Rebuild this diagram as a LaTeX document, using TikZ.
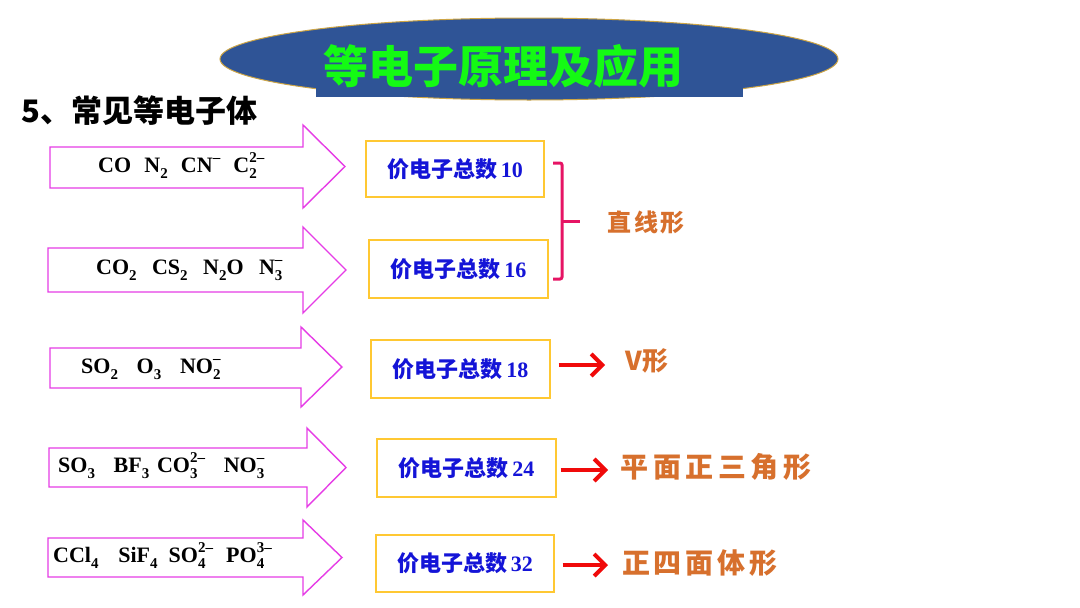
\documentclass[tikz,border=0pt]{standalone}
\usepackage{fontspec}
\setmainfont{Liberation Serif}
\newfontfamily\cjk{Noto Sans CJK SC}
\usetikzlibrary{arrows.meta}
\definecolor{ellblue}{RGB}{47,84,150}
\definecolor{ellgold}{RGB}{205,165,70}
\definecolor{titlegreen}{RGB}{20,250,20}
\definecolor{arrpink}{RGB}{230,60,230}
\definecolor{boxgold}{RGB}{255,200,50}
\definecolor{txtblue}{RGB}{20,20,215}
\definecolor{brk}{RGB}{230,20,100}
\definecolor{shapeorange}{RGB}{215,112,45}
\definecolor{redarr}{RGB}{240,10,10}
\newcommand\chsub[1]{\raisebox{-0.3em}{\fontsize{15}{15}\selectfont #1}}
\newcommand\chsup[1]{\raisebox{0.42em}{\fontsize{15}{15}\selectfont #1}}
\newcommand\chion[2]{\rlap{\chsub{#1}}\chsup{#2}}
\tikzset{
  barrow/.style={draw=arrpink, line width=1.4pt, fill=white, line join=miter},
  formula/.style={anchor=base west, inner sep=0pt, font=\bfseries\fontsize{22}{24}\selectfont},
  vbox/.style={draw=boxgold, line width=1.2pt, fill=white, inner sep=0pt,
     font=\fontsize{22}{24}\selectfont\bfseries, text=txtblue},
  shapelbl/.style={inner sep=0pt, text=shapeorange},
  redconn/.style={draw=redarr, line width=4pt,
     -{Straight Barb[length=11pt,width=22pt,line width=4pt]}},
}
\newcommand\vtext[1]{{\cjk 价电子总数}\,#1}
\begin{document}
\begin{tikzpicture}[x=1pt,y=-1pt]
\useasboundingbox (0,0) rectangle (1080,608);
\fill[white] (0,0) rectangle (1080,608);
% title banner
\draw[fill=ellblue, draw=ellgold, line width=1pt] (529,59) ellipse [x radius=309, y radius=41];
\fill[ellblue] (316,34) rectangle (743,97);
\node[font=\cjk\bfseries\fontsize{45}{48}\selectfont, text=titlegreen, inner sep=0pt] (title) at (503,66) {等电子原理及应用};
% heading
\node[anchor=west, font=\cjk\bfseries\fontsize{31}{34}\selectfont, inner sep=0pt] (head) at (21,111) {5、常见等电子体};
% block arrows
\draw[barrow] (50,147) -- (303,147) -- (303,125) -- (345,166.5) -- (303,208) -- (303,188) -- (50,188) -- cycle;
\draw[barrow] (48,248) -- (303,248) -- (303,227) -- (346,270) -- (303,313) -- (303,292) -- (48,292) -- cycle;
\draw[barrow] (50,348) -- (301,348) -- (301,327) -- (342,367) -- (301,407) -- (301,388) -- (50,388) -- cycle;
\draw[barrow] (49,448) -- (307,448) -- (307,428) -- (346,467.5) -- (307,507) -- (307,487) -- (49,487) -- cycle;
\draw[barrow] (48,538) -- (303,538) -- (303,520) -- (342,557.5) -- (303,595) -- (303,577) -- (48,577) -- cycle;
% formulas
\node[formula] (f1) at (98,172) {CO\hspace{0.6em}N\chsub{2}\hspace{0.6em}CN\chsup{–}\hspace{0.6em}C\chion{2}{2–}};
\node[formula] (f2) at (96,274) {CO\chsub{2}\hspace{0.7em}CS\chsub{2}\hspace{0.7em}N\chsub{2}O\hspace{0.7em}N\chion{3}{–}};
\node[formula] (f3) at (81,373) {SO\chsub{2}\hspace{0.85em}O\chsub{3}\hspace{0.85em}NO\chion{2}{–}};
\node[formula] (f4) at (58,472) {SO\chsub{3}\hspace{0.85em}BF\chsub{3}\hspace{0.35em}CO\chion{3}{2–}\hspace{0.85em}NO\chion{3}{–}};
\node[formula] (f5) at (53,562) {CCl\chsub{4}\hspace{0.9em}SiF\chsub{4}\hspace{0.5em}SO\chion{4}{2–}\hspace{0.6em}PO\chion{4}{3–}};
% value boxes
\node[vbox, minimum width=178, minimum height=56] (b1) at (455,169) {\vtext{10}};
\node[vbox, minimum width=179, minimum height=58] (b2) at (458.5,269) {\vtext{16}};
\node[vbox, minimum width=179, minimum height=58] (b3) at (460.5,369) {\vtext{18}};
\node[vbox, minimum width=179, minimum height=58] (b4) at (466.5,468) {\vtext{24}};
\node[vbox, minimum width=178, minimum height=57] (b5) at (465,563.5) {\vtext{32}};
% bracket
\draw[brk, line width=3pt, rounded corners=2pt] (553,163) -- (562,163) -- (562,279) -- (553,279);
\draw[brk, line width=3pt] (562,221) -- (580,221);
% shape labels
\node[shapelbl, font=\cjk\bfseries\fontsize{24}{28}\selectfont] (s1) at (646,222) {直\kern2.5pt 线\kern2.5pt 形};
\node[shapelbl, font=\cjk\bfseries\fontsize{26}{30}\selectfont] (s2) at (647,361) {V形};
\node[shapelbl, font=\cjk\bfseries\fontsize{28}{32}\selectfont] (s3) at (716,467) {平\kern4.5pt 面\kern4.5pt 正\kern4.5pt 三\kern4.5pt 角\kern4.5pt 形};
\node[shapelbl, font=\cjk\bfseries\fontsize{28}{32}\selectfont] (s4) at (700,563) {正\kern4pt 四\kern4pt 面\kern4pt 体\kern4pt 形};
% red connectors
\coordinate (e3) at (605,365);
\coordinate (e4) at (608,470);
\coordinate (e5) at (608,565);
\draw[redconn] (b3.east |- e3) ++(8,0) -- (e3);
\draw[redconn] (b4.east |- e4) ++(4,0) -- (e4);
\draw[redconn] (b5.east |- e5) ++(8,0) -- (e5);
\end{tikzpicture}
\end{document}
